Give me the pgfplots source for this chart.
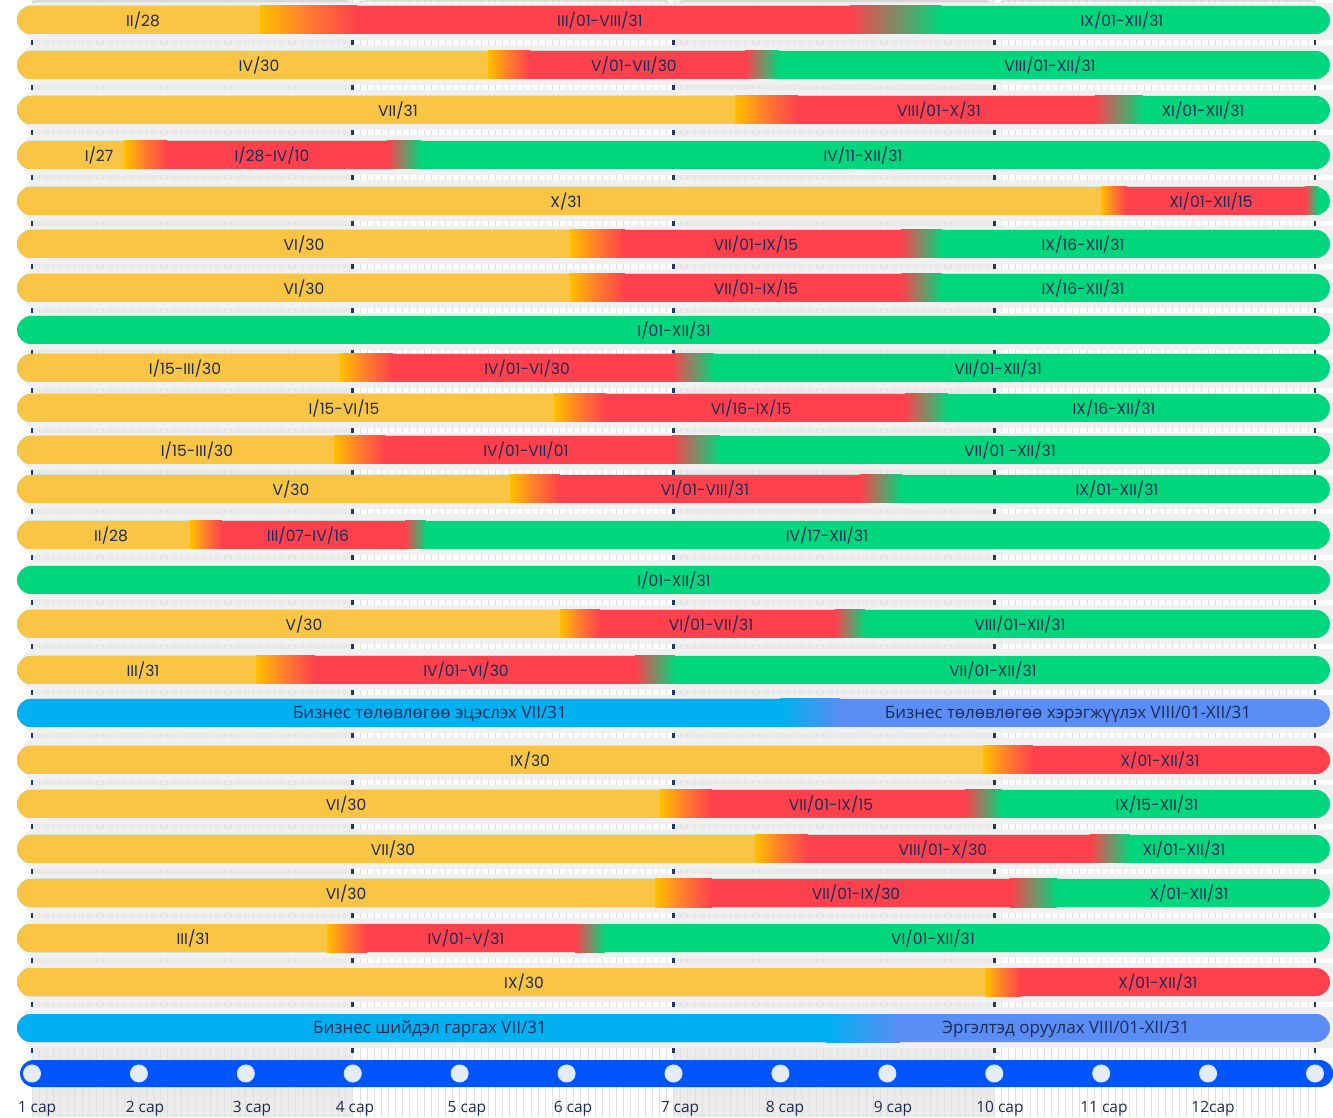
\documentclass[border=0pt]{standalone}
\usepackage{pgfplots}
\pgfplotsset{compat=1.18}
\usepackage{pgfplotstable}
\usepackage{fontspec}
\setmainfont{Poppins}
\newfontfamily\cyr{Open Sans}
\definecolor{cY}{HTML}{FAC545}
\definecolor{cY0}{HTML}{FFC000}
\definecolor{cO}{HTML}{FF7A30}
\definecolor{cR}{HTML}{FF414D}
\definecolor{cG}{HTML}{00D77C}
\definecolor{cB1}{HTML}{00B0F0}
\definecolor{cB2}{HTML}{5A8DF5}
\definecolor{cAx}{HTML}{0055FF}
\definecolor{cT}{HTML}{1C2B57}
\definecolor{cTrack}{HTML}{F0F0F0}
\definecolor{cCol}{HTML}{EBEBEB}
\definecolor{cGrid}{HTML}{E0E0E0}
\definecolor{cMark}{HTML}{1E3A5F}
\definecolor{cBr}{HTML}{CFCFCF}
\definecolor{cCirc}{HTML}{E6ECF6}
\definecolor{cEdge}{HTML}{EDEDED}

% rounded bar: style, x1, x2, ycenter
\newcommand{\rbar}[4]{%
  \pgfmathsetmacro\yt{#4-14}\pgfmathsetmacro\yb{#4+14}\pgfmathsetmacro\xm{(#2+#3)/2}%
  \addplot[draw=none,rounded corners=14pt,#1] coordinates {(\xm,\yt) (#3,\yt) (#3,\yb) (#2,\yb) (#2,\yt) (\xm,\yt)};}
% sharp segment: style, x1, x2, ycenter
\newcommand{\sbar}[4]{%
  \pgfmathsetmacro\yt{#4-14}\pgfmathsetmacro\yb{#4+14}%
  \addplot[draw=none,#1] coordinates {(#2,\yt) (#3,\yt) (#3,\yb) (#2,\yb) (#2,\yt)};}
% standard row: ycenter, yellow end, grad end, red end, grad end
\newcommand{\row}[5]{%
  \rbar{fill=cG}{-0.14}{12.14}{#1}%
  \pgfmathsetmacro\xe{#2+0.15}%
  \rbar{fill=cY}{-0.14}{\xe}{#1}%
  \sbar{left color=cY0,right color=cR,middle color=cO}{#2}{#3}{#1}%
  \sbar{fill=cR}{#3}{#4}{#1}%
  \sbar{left color=cR,right color=cG}{#4}{#5}{#1}}
% row ending in red: ycenter, yellow end, grad end
\newcommand{\rrow}[3]{%
  \rbar{fill=cR}{-0.14}{12.14}{#1}%
  \pgfmathsetmacro\xe{#2+0.15}%
  \rbar{fill=cY}{-0.14}{\xe}{#1}%
  \sbar{left color=cY0,right color=cR,middle color=cO}{#2}{#3}{#1}}
% blue row: ycenter, grad start, grad end
\newcommand{\brow}[3]{%
  \rbar{fill=cB2}{-0.14}{12.14}{#1}%
  \pgfmathsetmacro\xe{#2+0.15}%
  \rbar{fill=cB1}{-0.14}{\xe}{#1}%
  \sbar{left color=cB1,right color=cB2}{#2}{#3}{#1}}
% track: ytop, ybottom
\newcommand{\track}[2]{%
  \addplot[draw=none,fill=cTrack,rounded corners=13pt] coordinates {(6,#1) (12.6,#1) (12.6,#2) (-0.094,#2) (-0.094,#1) (6,#1)};}
\newcommand{\lab}[3]{\node[text=cT,font=\fontsize{15.5}{18}\selectfont,inner sep=0pt] at (axis cs:#1,#2+1) {#3};}
\newcommand{\labc}[3]{\node[text=cT,font=\cyr\fontsize{17}{20}\selectfont,inner sep=0pt] at (axis cs:#1,#2+1) {#3};}
\newcommand{\labm}[3]{\node[text=cT,font=\cyr\fontsize{15.5}{18}\selectfont,inner sep=0pt] at (axis cs:#1,#2) {#3};}

\pgfplotstableread{
y
42.5
87.5
132.5
177.5
223.5
266.5
310.5
352.5
390.5
430.5
472.5
511.5
557.5
602.5
646.5
692.5
735.5
782.5
826.5
871.5
915.5
960.5
1004.5
1050.5
}\gaps

\begin{document}
\begin{tikzpicture}
\begin{axis}[
  width=1333pt, height=1117pt, scale only axis,
  xmin=-0.2993, xmax=12.1683, ymin=0, ymax=1117, y dir=reverse,
  set layers, clip marker paths=true,
  axis line style={draw=none}, major tick length=0pt, minor tick length=0pt,
  xtick={0,...,12}, minor x tick num=14, xticklabels={}, ytick=\empty,
  xmajorgrids, xminorgrids,
  major grid style={draw=cGrid, line width=0.7pt},
  minor grid style={draw=cGrid, line width=0.7pt},
]
% quarter columns
\addplot[on layer=axis background, draw=none, fill=cCol] coordinates {(0,0) (3,0) (3,1117) (0,1117) (0,0)};
\addplot[on layer=axis background, draw=none, fill=cCol] coordinates {(6,0) (9,0) (9,1117) (6,1117) (6,0)};
% top brackets
\addplot[draw=cBr, line width=1.2pt, rounded corners=3pt] coordinates {(0.01,11) (0.01,1) (2.955,1) (2.955,11)};
\addplot[draw=cBr, line width=1.2pt, rounded corners=3pt] coordinates {(3.077,11) (3.077,1) (5.948,1) (5.948,11)};
\addplot[draw=cBr, line width=1.2pt, rounded corners=3pt] coordinates {(6.070,11) (6.070,1) (8.941,1) (8.941,11)};
\addplot[draw=cBr, line width=1.2pt, rounded corners=3pt] coordinates {(9.063,11) (9.063,1) (12.0,1) (12.0,11)};
% tracks
\track{3}{40}\track{45}{85}\track{90}{130}\track{135}{175}
\track{180}{221}\track{226}{264}\track{269}{308}\track{313}{350}
\track{355}{388}\track{393}{428}\track{433}{470}\track{475}{509}
\track{514}{555}\track{560}{600}\track{605}{644}\track{649}{690}
\track{695}{733}\track{738}{780}\track{785}{824}\track{829}{869}
\track{874}{913}\track{918}{958}\track{963}{1002}\track{1007}{1048}
% left edge circles
\addplot[only marks, mark=*, mark size=14pt, color=cEdge] coordinates {(-0.36,20) (-0.36,65) (-0.36,110) (-0.36,155) (-0.36,201) (-0.36,244) (-0.36,288) (-0.36,330) (-0.36,368) (-0.36,408) (-0.36,450) (-0.36,489) (-0.36,535) (-0.36,580) (-0.36,624) (-0.36,670) (-0.36,713) (-0.36,760) (-0.36,804) (-0.36,849) (-0.36,893) (-0.36,938) (-0.36,982) (-0.36,1028)};
% quarter tick marks
\addplot[only marks, mark=|, mark size=2.6pt, color=cMark, mark options={line width=2.6pt}] table[x expr=0, y=y] {\gaps};
\addplot[only marks, mark=|, mark size=2.6pt, color=cMark, mark options={line width=2.6pt}] table[x expr=3, y=y] {\gaps};
\addplot[only marks, mark=|, mark size=2.6pt, color=cMark, mark options={line width=2.6pt}] table[x expr=6, y=y] {\gaps};
\addplot[only marks, mark=|, mark size=2.6pt, color=cMark, mark options={line width=2.6pt}] table[x expr=9, y=y] {\gaps};
\addplot[only marks, mark=|, mark size=2.6pt, color=cMark, mark options={line width=2.6pt}] table[x expr=12, y=y] {\gaps};
% rows
\row{20}{2.132}{3.040}{7.651}{8.502}
\row{65}{4.265}{4.658}{6.669}{6.987}
\row{110}{6.575}{7.164}{9.942}{10.391}
\row{155}{0.860}{1.263}{3.320}{3.638}
\row{201}{9.998}{10.241}{11.906}{12.03}
\row{244}{5.032}{5.546}{8.128}{8.511}
\row{288}{5.032}{5.546}{8.128}{8.511}
\rbar{fill=cG}{-0.14}{12.14}{330}
\row{368}{2.881}{3.376}{5.986}{6.379}
\row{408}{4.882}{5.368}{8.165}{8.567}
\row{450}{2.825}{3.302}{5.986}{6.435}
\row{489}{4.471}{4.938}{7.744}{8.137}
\row{535}{1.478}{1.777}{3.489}{3.685}
\rbar{fill=cG}{-0.14}{12.14}{580}
\row{624}{4.938}{5.312}{7.510}{7.791}
\row{670}{2.095}{2.647}{5.640}{6.014}
\brow{713}{7.000}{7.557}
\rrow{760}{8.894}{9.362}
\row{804}{5.874}{6.360}{8.726}{9.072}
\row{849}{6.762}{7.258}{9.895}{10.269}
\row{893}{5.827}{6.360}{9.147}{9.587}
\row{938}{2.759}{3.133}{5.079}{5.359}
\rrow{982}{8.913}{9.250}
\brow{1028}{7.426}{8.118}
% bottom timeline
\addplot[draw=none, fill=cAx, rounded corners=13.5pt] coordinates {(6,1060) (12.17,1060) (12.17,1087) (-0.112,1087) (-0.112,1060) (6,1060)};
\addplot[only marks, mark=*, mark size=8.5pt, mark options={fill=cCirc, draw=white!85!cAx, line width=1pt}] coordinates {(0,1073.5) (1,1073.5) (2,1073.5) (3,1073.5) (4,1073.5) (5,1073.5) (6,1073.5) (7,1073.5) (8,1073.5) (9,1073.5) (10,1073.5) (11,1073.5) (12,1073.5)};
% labels
\lab{1.038}{20}{II/28}\lab{5.312}{20}{III/01-VIII/31}\lab{10.195}{20}{IX/01-XII/31}
\lab{2.123}{65}{IV/30}\lab{5.630}{65}{V/01-VII/30}\lab{9.521}{65}{VIII/01-XII/31}
\lab{3.423}{110}{VII/31}\lab{8.483}{110}{VIII/01-X/31}\lab{10.952}{110}{XI/01-XII/31}
\lab{0.627}{155}{I/27}\lab{2.245}{155}{I/28-IV/10}\lab{7.772}{155}{IV/11-XII/31}
\lab{4.994}{201}{X/31}\lab{11.027}{201}{XI/01-XII/15}
\lab{2.544}{244}{VI/30}\lab{6.771}{244}{VII/01-IX/15}\lab{9.830}{244}{IX/16-XII/31}
\lab{2.544}{288}{VI/30}\lab{6.771}{288}{VII/01-IX/15}\lab{9.830}{288}{IX/16-XII/31}
\lab{6.005}{330}{I/01-XII/31}
\lab{1.431}{368}{I/15-III/30}\lab{4.630}{368}{IV/01-VI/30}\lab{9.035}{368}{VII/01-XII/31}
\lab{2.918}{408}{I/15-VI/15}\lab{6.725}{408}{VI/16-IX/15}\lab{10.120}{408}{IX/16-XII/31}
\lab{1.543}{450}{I/15-III/30}\lab{4.620}{450}{IV/01-VII/01}\lab{9.147}{450}{VII/01 -XII/31}
\lab{2.422}{489}{V/30}\lab{6.294}{489}{VI/01-VIII/31}\lab{10.148}{489}{IX/01-XII/31}
\lab{0.739}{535}{II/28}\lab{2.581}{535}{III/07-IV/16}\lab{7.435}{535}{IV/17-XII/31}
\lab{6.005}{580}{I/01-XII/31}
\lab{2.544}{624}{V/30}\lab{6.351}{624}{VI/01-VII/31}\lab{9.240}{624}{VIII/01-XII/31}
\lab{1.038}{670}{III/31}\lab{4.059}{670}{IV/01-VI/30}\lab{8.988}{670}{VII/01-XII/31}
\labc{3.722}{713}{Бизнес төлөвлөгөө эцэслэх VII/31}\labc{9.690}{713}{Бизнес төлөвлөгөө хэрэгжүүлэх VIII/01-XII/31}
\lab{4.658}{760}{IX/30}\lab{10.550}{760}{X/01-XII/31}
\lab{2.937}{804}{VI/30}\lab{7.473}{804}{VII/01-IX/15}\lab{10.522}{804}{IX/15-XII/31}
\lab{3.376}{849}{VII/30}\lab{8.520}{849}{VIII/01-X/30}\lab{10.774}{849}{XI/01-XII/31}
\lab{2.937}{893}{VI/30}\lab{7.707}{893}{VII/01-IX/30}\lab{10.821}{893}{X/01-XII/31}
\lab{1.506}{938}{III/31}\lab{4.059}{938}{IV/01-V/31}\lab{8.427}{938}{VI/01-XII/31}
\lab{4.602}{982}{IX/30}\lab{10.531}{982}{X/01-XII/31}
\labc{3.722}{1028}{Бизнес шийдэл гаргах VII/31}\labc{9.671}{1028}{Эргэлтэд оруулах VIII/01-XII/31}
% month labels
\labm{0.047}{1109}{1 сар}\labm{1.057}{1109}{2 сар}\labm{2.058}{1109}{3 сар}
\labm{3.021}{1109}{4 сар}\labm{4.068}{1109}{5 сар}\labm{5.060}{1109}{6 сар}
\labm{6.061}{1109}{7 сар}\labm{7.043}{1109}{8 сар}\labm{8.053}{1109}{9 сар}
\labm{9.053}{1109}{10 сар}\labm{10.026}{1109}{11 сар}\labm{11.046}{1109}{12сар}
\end{axis}
\pgfresetboundingbox
\path (current axis.south west) rectangle (current axis.north east);
\end{tikzpicture}
\end{document}
